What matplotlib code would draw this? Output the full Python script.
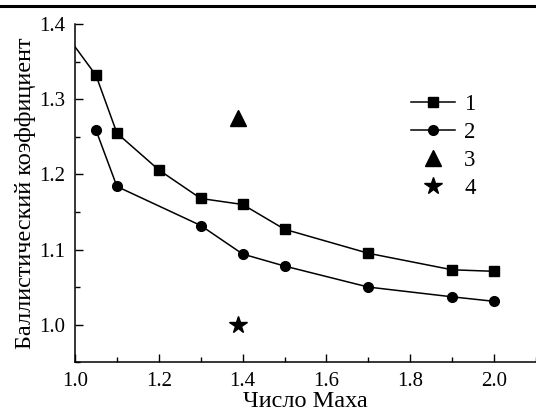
import matplotlib
matplotlib.use("Agg")
import matplotlib.pyplot as plt
from matplotlib.lines import Line2D
from matplotlib.ticker import MultipleLocator

plt.rcParams['font.family'] = ['Liberation Serif', 'DejaVu Serif']

# curve 1 (squares), first point has no marker
mach_1 = [1.0, 1.05, 1.1, 1.2, 1.3, 1.4, 1.5, 1.7, 1.9, 2.0]
coef_1 = [1.370, 1.332, 1.255, 1.206, 1.168, 1.160, 1.127, 1.095, 1.073, 1.071]

# curve 2 (circles)
mach_2 = [1.05, 1.1, 1.3, 1.4, 1.5, 1.7, 1.9, 2.0]
coef_2 = [1.259, 1.184, 1.132, 1.094, 1.078, 1.050, 1.037, 1.031]

# single points 3 and 4
mach_3, coef_3 = [1.39], [1.275]
mach_4, coef_4 = [1.39], [1.000]

labels = ['1', '2', '3', '4']

fig = plt.figure(figsize=(5.36, 4.12), dpi=100)
ax = fig.add_axes([0.14, 0.121, 0.86, 0.82])

ax.plot(mach_1, coef_1, '-s', color='black', lw=1.1, ms=6.5,
        markevery=list(range(1, len(mach_1))), label=labels[0])
ax.plot(mach_2, coef_2, '-o', color='black', lw=1.1, ms=7, label=labels[1])
ax.plot(mach_3, coef_3, '^', color='black', ms=11, ls='none', label=labels[2])
ax.plot(mach_4, coef_4, '*', color='black', ms=13, ls='none', label=labels[3])

ax.set_xlim(1.0, 2.1)
ax.set_ylim(0.95, 1.4)
ax.xaxis.set_major_locator(MultipleLocator(0.2))
ax.xaxis.set_minor_locator(MultipleLocator(0.1))
ax.yaxis.set_major_locator(MultipleLocator(0.1))
ax.yaxis.set_minor_locator(MultipleLocator(0.05))
ax.xaxis.set_major_formatter(plt.FormatStrFormatter('%.1f'))
ax.yaxis.set_major_formatter(plt.FormatStrFormatter('%.1f'))
ax.tick_params(which='both', direction='in', width=1.0, labelsize=15, pad=7)
ax.tick_params(which='major', length=6)
ax.tick_params(which='minor', length=3.5)
for s in ['top', 'right']:
    ax.spines[s].set_visible(False)
for s in ['left', 'bottom']:
    ax.spines[s].set_linewidth(1.1)

ax.set_xlabel('Число Маха', fontsize=17.5, labelpad=0)
ax.set_ylabel('Баллистический коэффициент', fontsize=17.5, labelpad=2)

ax.legend(loc='upper left', bbox_to_anchor=(0.71, 0.82), frameon=False,
          fontsize=16.5, handlelength=1.9, handletextpad=0.4, labelspacing=0.3,
          borderaxespad=0)

# thick rule across the top of the picture
fig.add_artist(Line2D([0, 1], [0.985, 0.985], color='black', lw=2.2))

fig.savefig('out.png', dpi=100)
